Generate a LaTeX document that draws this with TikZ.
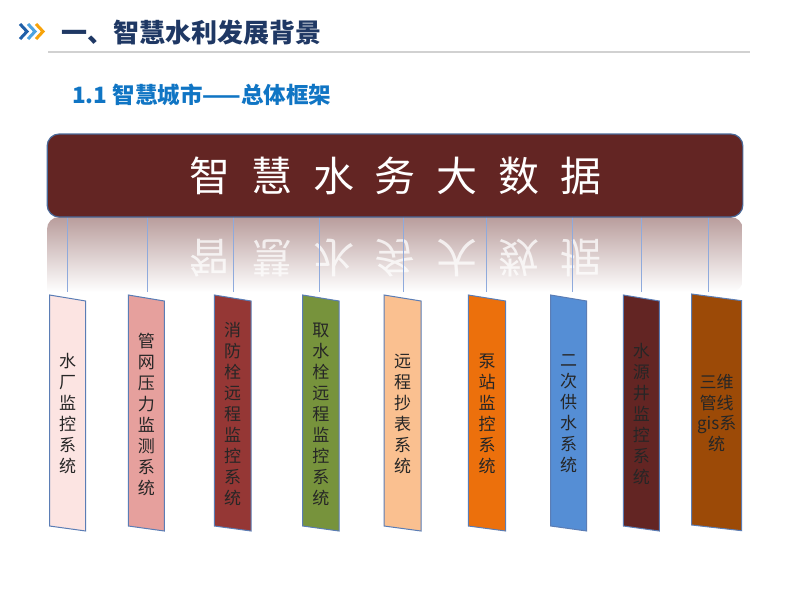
\documentclass[tikz,border=0pt]{standalone}
\usepackage{fontspec}
\setmainfont{Noto Sans CJK SC}
\usetikzlibrary{shadings}
\definecolor{banner}{HTML}{632523}
\definecolor{bannerEdge}{HTML}{4A6A9A}
\definecolor{boxEdge}{HTML}{5B7DB5}
\definecolor{connCol}{HTML}{8FAADC}
\definecolor{titleNavy}{HTML}{1F3864}
\definecolor{subBlue}{HTML}{1075C4}
\definecolor{chevA}{HTML}{1F5FA8}
\definecolor{chevB}{HTML}{4DA3E0}
\definecolor{chevC}{HTML}{F7A30A}
\definecolor{c1}{HTML}{FCE4E2}
\definecolor{c2}{HTML}{E6A09D}
\definecolor{c3}{HTML}{953735}
\definecolor{c4}{HTML}{77933C}
\definecolor{c5}{HTML}{FAC090}
\definecolor{c6}{HTML}{EC700C}
\definecolor{c7}{HTML}{558ED5}
\definecolor{c8}{HTML}{632523}
\definecolor{c9}{HTML}{9C4A07}
\colorlet{reflTop}{banner!45!white}
\tikzset{
  conn/.style={draw=connCol, line width=0.8pt},
  sysbox/.style={draw=boxEdge, line width=1pt},
  boxtxt/.style={align=center, inner sep=0pt, text=black!85,
    font={\fontsize{17}{21}\selectfont}},
  bigchar/.style={inner sep=0pt, text=white, font={\fontsize{41}{41}\selectfont}},
  reflchar/.style={inner sep=0pt, text=white, text opacity=0.75, yscale=-1, transform shape,
    font={\fontsize{41}{41}\selectfont}},
  chev/.style={line width=3pt, line cap=butt, line join=miter}
}
\begin{document}
\begin{tikzpicture}[x=1pt,y=-1pt]
\useasboundingbox[fill=white] (0,0) rectangle (793,594);
% header
\draw[chev, chevA] (20,24) -- (27,31.5) -- (20,39);
\draw[chev, chevB] (28,24) -- (35,31.5) -- (28,39);
\draw[chev, chevC] (36,24) -- (43,31.5) -- (36,39);
\node[anchor=west, inner sep=0pt, text=titleNavy, font={\fontsize{26}{26}\selectfont\bfseries}] (title) at (61,33) {一、智慧水利发展背景};
\coordinate (ruleA) at (48,52);
\coordinate (ruleB) at (750,52);
\draw[black!18, line width=1.6pt] (ruleA) -- (ruleB);
\node[anchor=west, inner sep=0pt, text=subBlue, font={\fontsize{22.5}{22.5}\selectfont\bfseries}] (subtitle) at (72,95) {1.1 智慧城市——总体框架};
% reflection
\shade[top color=reflTop, bottom color=white, rounded corners=12pt]
  (47,292) -- (47,217) -- (742.7,217) -- (742.7,292) [sharp corners] -- cycle;
% banner
\node[draw=bannerEdge, fill=banner, rounded corners=12pt, line width=1.2pt,
  minimum width=695.7pt, minimum height=83pt, inner sep=0pt] (banner) at (395,175.5) {};
\foreach \i/\ch in {0/智,1/慧,2/水,3/务,4/大,5/数,6/据}{
  \node[bigchar] (m\i) at ({210+61.8*\i},176) {\ch};
  \node[reflchar] (r\i) at ({210+61.8*\i},258) {\ch};
}
% systems
\foreach \n/\xl/\xr/\lx/\col/\txt in {
  1/49.5/85.7/67/c1/{水\\厂\\监\\控\\系\\统},
  2/128.3/164.3/147/c2/{管\\网\\压\\力\\监\\测\\系\\统},
  3/214.3/251/233/c3/{消\\防\\栓\\远\\程\\监\\控\\系\\统},
  4/302.7/339/319/c4/{取\\水\\栓\\远\\程\\监\\控\\系\\统},
  5/384/421/403/c5/{远\\程\\抄\\表\\系\\统},
  6/468.3/505.7/486/c6/{泵\\站\\监\\控\\系\\统},
  7/550.7/586.7/572/c7/{二\\次\\供\\水\\系\\统},
  8/623.3/659.3/641/c8/{水\\源\\井\\监\\控\\系\\统}}{
  \coordinate (t\n) at (\lx,292);
  \draw[conn] (t\n |- banner.south) -- (t\n);
  \filldraw[sysbox, fill=\col] (\xl,295) -- (\xr,301) -- (\xr,531) -- (\xl,526) -- cycle;
  \node[boxtxt] (b\n) at ({(\xl+\xr)/2},414) {\txt};
}
\coordinate (t9) at (708,292);
\draw[conn] (t9 |- banner.south) -- (t9);
\filldraw[sysbox, fill=c9] (691.7,294) -- (741.7,300.7) -- (741.7,530.7) -- (691.7,525) -- cycle;
\node[boxtxt, font={\fontsize{17}{20.5}\selectfont}] (b9) at (716.7,413) {三维\\管线\\gis系\\统};
\end{tikzpicture}
\end{document}
